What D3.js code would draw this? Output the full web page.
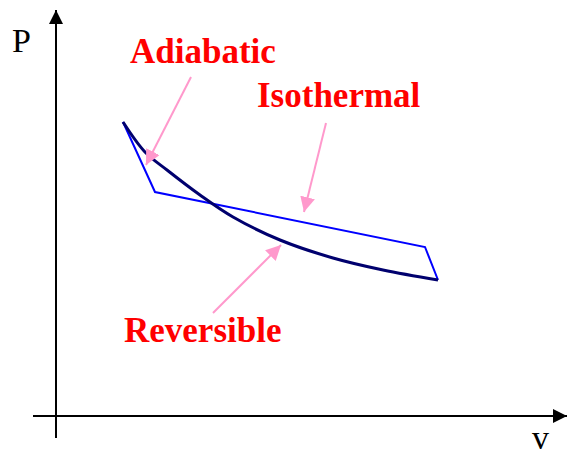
<!DOCTYPE html>
<html><head><meta charset="utf-8">
<script src="https://cdn.jsdelivr.net/npm/d3@7"></script>
<style>html,body{margin:0;padding:0;background:#fff;}svg{display:block;}</style>
</head><body><svg id="c" width="568" height="457"></svg>
<script>
// Data (v, P) in arbitrary units
const reversibleCurve = [[1.34,7.35],[1.78,6.6],[2.22,6.15],[2.88,5.525],[3.54,4.975],[4.48,4.4],[5.54,3.95],[6.54,3.65],[7.64,3.4]];
const cyclePath = [[1.34,7.35],[1.98,5.6],[7.38,4.225],[7.64,3.4]];
const labels = ["Adiabatic","Isothermal","Reversible"];
const labelPos = [[1.48,8.825],[4.02,7.725],[1.36,1.85]];
const arrowFrom = [[2.7,8.475],[5.4,7.325],[3.14,2.575]];
const arrowTo = [[1.8,6.275],[4.96,5.1],[4.5,4.275]];
const axisLabels = ["P","v"];

const svg = d3.select("#c");
const x = d3.scaleLinear().domain([0,10]).range([56,556]);
const y = d3.scaleLinear().domain([0,10]).range([416,16]);

const defs = svg.append("defs");
defs.append("marker").attr("id","ah").attr("viewBox","0 0 10 10").attr("refX",10).attr("refY",5)
  .attr("markerWidth",14).attr("markerHeight",14).attr("markerUnits","userSpaceOnUse").attr("orient","auto")
  .append("path").attr("d","M0,0L10,5L0,10Z").attr("fill","#000");
defs.append("marker").attr("id","ph").attr("viewBox","0 0 10 10").attr("refX",10).attr("refY",5)
  .attr("markerWidth",15).attr("markerHeight",15).attr("markerUnits","userSpaceOnUse").attr("orient","auto")
  .append("path").attr("d","M0,0L10,5L0,10Z").attr("fill","#ff99cc");

// axes
svg.append("line").attr("x1",x(0)).attr("x2",x(0)).attr("y1",438).attr("y2",y(10)-6)
  .attr("stroke","#000").attr("stroke-width",2).attr("marker-end","url(#ah)");
svg.append("line").attr("x1",33).attr("x2",567).attr("y1",y(0)).attr("y2",y(0))
  .attr("stroke","#000").attr("stroke-width",2).attr("marker-end","url(#ah)");

svg.append("text").attr("x",12).attr("y",52).text(axisLabels[0])
  .attr("font-family","Liberation Serif, Times New Roman, serif").attr("font-size",34);
svg.append("text").attr("x",532).attr("y",449).text(axisLabels[1])
  .attr("font-family","Liberation Serif, Times New Roman, serif").attr("font-size",34);

const line = d3.line().x(d=>x(d[0])).y(d=>y(d[1]));
svg.append("path").attr("d",line.curve(d3.curveLinear)(cyclePath))
  .attr("fill","none").attr("stroke","#0000ff").attr("stroke-width",2);
svg.append("path").attr("d",d3.line().x(d=>x(d[0])).y(d=>y(d[1])).curve(d3.curveCatmullRom)(reversibleCurve))
  .attr("fill","none").attr("stroke","#00006e").attr("stroke-width",3);

// annotation arrows
svg.selectAll("line.ann").data(arrowFrom).enter().append("line").attr("class","ann")
  .attr("x1",d=>x(d[0])).attr("y1",d=>y(d[1]))
  .attr("x2",(d,i)=>x(arrowTo[i][0])).attr("y2",(d,i)=>y(arrowTo[i][1]))
  .attr("stroke","#ff99cc").attr("stroke-width",2).attr("marker-end","url(#ph)");

svg.selectAll("text.lab").data(labels).enter().append("text").attr("class","lab")
  .attr("x",(d,i)=>x(labelPos[i][0])).attr("y",(d,i)=>y(labelPos[i][1]))
  .text(d=>d).attr("fill","#ff0000").attr("font-weight","bold")
  .attr("font-family","Liberation Serif, Times New Roman, serif").attr("font-size",35);
</script></body></html>
